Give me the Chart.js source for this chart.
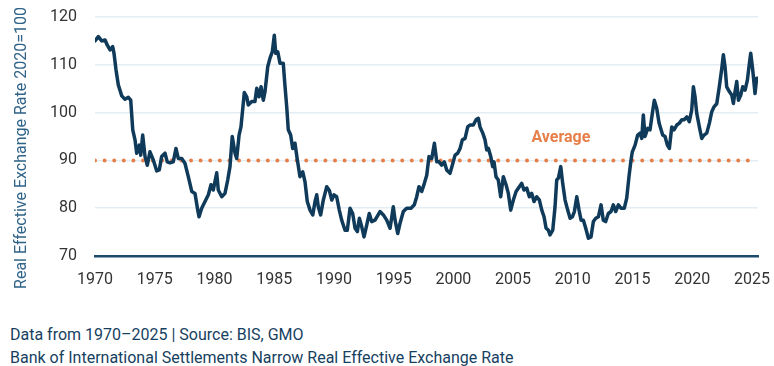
<!DOCTYPE html>
<html>
<head>
<meta charset="utf-8">
<script src="https://cdn.jsdelivr.net/npm/chart.js@4.4.1/dist/chart.umd.min.js"></script>
<style>
  html, body { margin: 0; padding: 0; background: #ffffff; }
  #wrap { position: relative; width: 774px; height: 366px; overflow: hidden; }
  #chart { position: absolute; left: 0; top: 0; }
  .cap { position: absolute; left: 10px; font-family: Roboto, sans-serif; font-size: 16px; color: #173f5f; white-space: nowrap; }
</style>
</head>
<body>
<div id="wrap">
  <canvas id="chart" width="774" height="300"></canvas>
  <div class="cap" id="cap1" style="top:325px">Data from 1970–2025 | Source: BIS, GMO</div>
  <div class="cap" id="cap2" style="top:348px">Bank of International Settlements Narrow Real Effective Exchange Rate</div>
</div>
<script>
// ---- data ----
const years = [
  1970.00,1970.28,1970.56,1970.84,1971.03,1971.26,1971.48,1971.59,1971.76,1971.95,
  1972.24,1972.51,1972.79,1972.99,1973.16,1973.35,1973.49,1973.71,1973.83,1973.99,
  1974.19,1974.38,1974.60,1974.88,1975.17,1975.38,1975.58,1975.86,1976.05,1976.28,
  1976.55,1976.78,1976.97,1977.26,1977.53,1977.81,1978.10,1978.37,1978.60,1978.71,
  1978.93,1979.21,1979.49,1979.71,1979.90,1980.19,1980.32,1980.61,1980.88,1981.11,
  1981.30,1981.49,1981.72,1981.86,1982.06,1982.22,1982.50,1982.70,1982.83,1983.12,
  1983.39,1983.54,1983.73,1983.90,1984.09,1984.23,1984.46,1984.65,1984.84,1985.01,
  1985.13,1985.30,1985.49,1985.76,1985.91,1986.05,1986.18,1986.38,1986.55,1986.74,
  1986.94,1987.16,1987.39,1987.58,1987.77,1988.00,1988.23,1988.42,1988.56,1988.69,
  1988.89,1989.11,1989.40,1989.62,1989.82,1990.01,1990.23,1990.45,1990.65,1990.93,
  1991.12,1991.35,1991.57,1991.77,1991.96,1992.13,1992.33,1992.52,1992.75,1992.96,
  1993.16,1993.44,1993.86,1994.14,1994.42,1994.70,1994.97,1995.12,1995.34,1995.53,
  1995.81,1996.09,1996.45,1996.73,1996.93,1997.12,1997.35,1997.57,1997.77,1997.96,
  1998.19,1998.41,1998.61,1998.80,1999.02,1999.24,1999.44,1999.72,1999.91,2000.14,
  2000.36,2000.56,2000.75,2000.98,2001.20,2001.39,2001.67,2001.90,2002.09,2002.23,
  2002.46,2002.65,2002.79,2002.93,2003.13,2003.29,2003.40,2003.57,2003.76,2003.96,
  2004.18,2004.41,2004.60,2004.80,2005.02,2005.25,2005.52,2005.72,2005.91,2006.14,
  2006.36,2006.56,2006.75,2006.98,2007.20,2007.40,2007.59,2007.76,2007.95,2008.09,
  2008.32,2008.51,2008.65,2008.79,2008.99,2009.15,2009.35,2009.57,2009.77,2009.96,
  2010.13,2010.33,2010.52,2010.69,2010.88,2011.08,2011.30,2011.52,2011.72,2011.92,
  2012.14,2012.36,2012.55,2012.75,2012.97,2013.20,2013.39,2013.59,2013.81,2014.03,
  2014.31,2014.51,2014.70,2014.87,2014.98,2015.21,2015.43,2015.63,2015.77,2015.90,
  2016.04,2016.27,2016.46,2016.66,2016.82,2017.02,2017.22,2017.52,2017.72,2017.91,
  2018.08,2018.28,2018.47,2018.70,2018.92,2019.12,2019.31,2019.54,2019.75,2019.95,
  2020.09,2020.23,2020.37,2020.59,2020.79,2020.98,2021.21,2021.43,2021.63,2021.82,
  2022.05,2022.26,2022.47,2022.60,2022.74,2022.88,2023.10,2023.30,2023.44,2023.58,
  2023.72,2023.86,2024.06,2024.22,2024.42,2024.61,2024.78,2024.89,2025.06,2025.25,
  2025.39,2025.50
];
const reer = [
  115.0,115.9,115.0,115.2,114.1,113.1,113.8,112.4,108.9,105.8,
  103.5,102.8,103.2,102.6,96.4,94.3,91.5,93.2,91.1,95.3,
  90.8,89.0,91.8,90.1,87.8,88.0,90.8,91.5,89.7,89.5,
  89.7,92.5,90.4,90.4,89.4,86.6,83.5,83.1,79.6,78.2,
  80.0,81.4,82.8,84.9,83.8,87.4,83.8,82.4,83.1,85.9,
  88.7,95.0,91.5,90.4,95.3,97.0,104.2,103.3,101.6,102.3,
  102.3,105.1,103.3,105.4,102.6,104.4,109.6,111.4,112.7,116.2,
  112.4,112.7,110.3,110.3,105.4,101.2,96.4,95.3,92.5,93.6,
  90.1,86.6,87.6,85.5,81.4,79.6,78.6,81.4,82.8,80.3,
  78.6,81.7,84.5,83.7,81.7,82.8,82.4,79.6,77.5,75.4,
  75.4,80.0,78.9,75.8,75.1,77.9,76.1,74.0,76.5,78.9,
  77.2,77.5,79.3,78.6,77.5,75.8,80.3,77.5,74.7,76.8,
  79.3,80.0,80.0,80.7,82.4,84.5,83.5,85.2,86.9,90.8,
  90.4,93.6,89.7,89.7,89.0,89.7,88.0,87.3,89.0,91.1,
  91.5,92.5,94.3,94.6,97.0,97.4,97.4,98.5,98.8,97.0,
  95.7,94.3,92.2,92.5,90.8,88.7,89.7,86.6,85.9,82.4,
  86.6,84.9,83.1,79.6,81.7,83.5,84.5,85.2,83.8,84.2,
  82.4,83.1,81.4,82.4,81.7,79.6,78.2,75.8,75.4,74.4,
  75.4,80.3,85.9,86.3,88.7,85.2,81.7,79.6,77.9,78.2,
  79.3,82.4,79.6,77.5,77.5,75.8,73.7,74.0,77.2,77.9,
  78.2,80.7,77.5,77.2,78.9,79.3,80.7,79.3,80.7,80.0,
  80.0,82.1,86.6,90.1,91.8,93.2,95.3,95.7,94.6,99.5,
  95.0,96.7,96.4,99.9,102.6,100.9,97.8,95.3,95.0,93.2,
  92.5,97.0,96.4,97.4,97.8,98.5,98.5,99.1,98.1,100.5,
  105.4,103.3,99.9,97.0,94.6,95.3,95.7,97.8,100.2,101.2,
  101.9,105.4,109.3,112.1,109.6,105.4,104.4,103.7,101.9,104.4,
  106.5,102.6,103.7,105.4,104.7,106.8,110.3,112.4,108.9,104.0,
  107.2,107.2
];
const averageYears = [1970, 2024.8];
const averageValue = [90, 90];
const averageLabel = 'Average';
const xTickValues = [1970, 1975, 1980, 1985, 1990, 1995, 2000, 2005, 2010, 2015, 2020, 2025];
const yTickValues = [70, 80, 90, 100, 110, 120];
const yAxisTitle = 'Real Effective Exchange Rate 2020=100';

// ---- chart ----
const NAVY = '#0f3a5a';
const ORANGE = '#e67f49';

const textPlugin = {
  id: 'textPlugin',
  afterDraw(chart) {
    const { ctx, scales: { x, y } } = chart;
    ctx.save();
    // Average label
    ctx.font = 'bold 16px Roboto';
    ctx.fillStyle = ORANGE;
    ctx.textAlign = 'center';
    ctx.textBaseline = 'middle';
    ctx.fillText(averageLabel, x.getPixelForValue(2009.0), y.getPixelForValue(94.6));
    // Y axis title
    ctx.font = '16px Roboto';
    ctx.fillStyle = '#2f6388';
    ctx.translate(22, 148);
    ctx.rotate(-Math.PI / 2);
    ctx.fillText(yAxisTitle, 0, 0);
    ctx.restore();
  }
};

new Chart(document.getElementById('chart'), {
  type: 'line',
  data: {
    datasets: [
      {
        label: 'REER',
        data: years.map((yr, i) => ({ x: yr, y: reer[i] })),
        borderColor: NAVY,
        borderWidth: 3.5,
        pointRadius: 0,
        tension: 0,
        borderJoinStyle: 'round',
        borderCapStyle: 'round'
      },
      {
        label: 'Average',
        data: averageYears.map((yr, i) => ({ x: yr, y: averageValue[i] })),
        borderColor: ORANGE,
        borderWidth: 4,
        borderDash: [0, 9.6],
        borderCapStyle: 'round',
        pointRadius: 0
      }
    ]
  },
  options: {
    responsive: false,
    animation: false,
    devicePixelRatio: 1,
    layout: { padding: { left: 0, right: 16, top: 17, bottom: 0 } },
    plugins: { legend: { display: false }, tooltip: { enabled: false } },
    scales: {
      x: {
        type: 'linear',
        min: 1970,
        max: 2025.5,
        afterFit(s) { s.height = 44; s.paddingLeft = 0; s.paddingRight = 0; },
        afterBuildTicks(s) { s.ticks = xTickValues.map(v => ({ value: v })); },
        grid: { display: false, drawTicks: false },
        border: { display: true, color: '#1b4a6b', width: 2.5 },
        ticks: {
          padding: 14,
          maxRotation: 0,
          autoSkip: false,
          color: '#333333',
          font: { family: 'Roboto', size: 16 },
          callback: v => String(v)
        }
      },
      y: {
        min: 70,
        max: 120,
        afterFit(s) { s.width = 95; s.paddingTop = 0; s.paddingBottom = 0; },
        afterBuildTicks(s) { s.ticks = yTickValues.map(v => ({ value: v })); },
        grid: {
          drawTicks: false,
          color: ctx => (ctx.tick && ctx.tick.value === 70) ? 'rgba(0,0,0,0)' : '#e4edf4',
          lineWidth: 1.5
        },
        border: { display: false },
        ticks: {
          padding: 18,
          color: '#333333',
          font: { family: 'Roboto', size: 16 }
        }
      }
    }
  },
  plugins: [textPlugin]
});
</script>
</body>
</html>
